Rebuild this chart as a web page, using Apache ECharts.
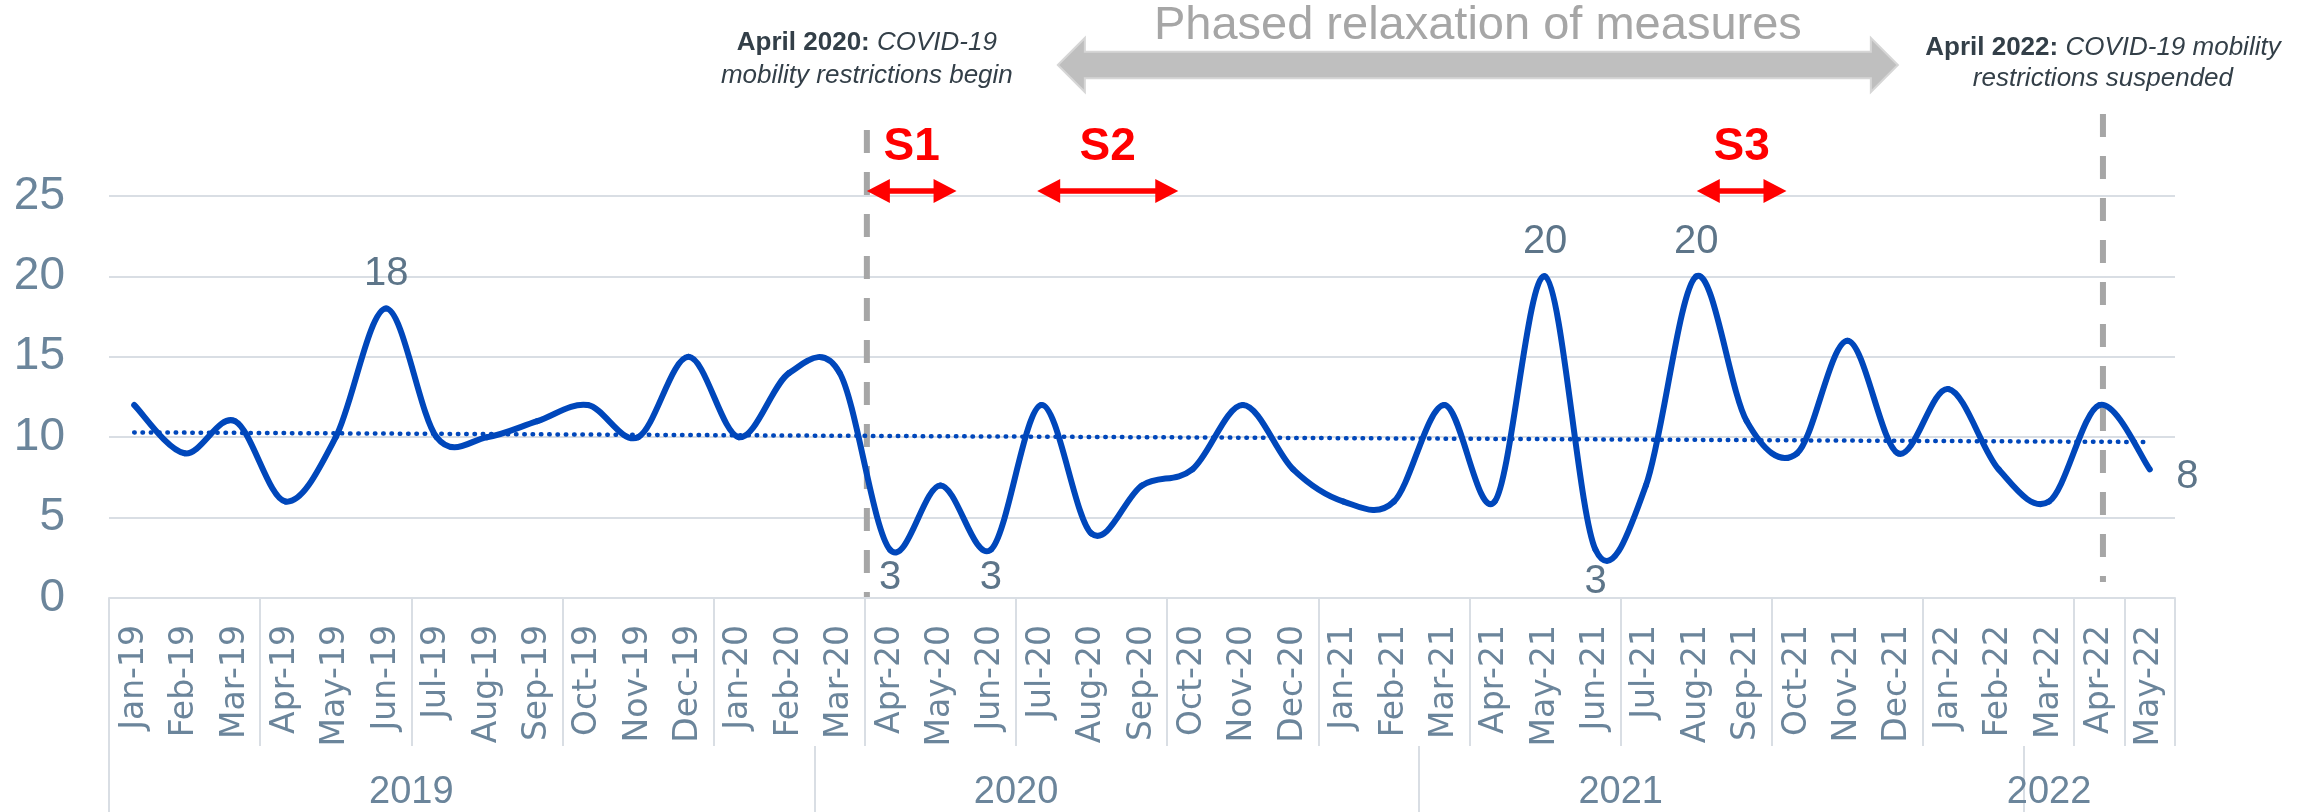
<!DOCTYPE html>
<html>
<head>
<meta charset="utf-8">
<script src="https://cdn.jsdelivr.net/npm/echarts@6/dist/echarts.min.js"></script>
<style>
  html, body { margin: 0; padding: 0; background: #fff; }
  #main { width: 2316px; height: 812px; }
</style>
</head>
<body>
<div id="main"></div>
<script>
// monthly values
var months = ['Jan-19', 'Feb-19', 'Mar-19', 'Apr-19', 'May-19', 'Jun-19', 'Jul-19', 'Aug-19', 'Sep-19', 'Oct-19', 'Nov-19', 'Dec-19',
    'Jan-20', 'Feb-20', 'Mar-20', 'Apr-20', 'May-20', 'Jun-20', 'Jul-20', 'Aug-20', 'Sep-20', 'Oct-20', 'Nov-20', 'Dec-20',
    'Jan-21', 'Feb-21', 'Mar-21', 'Apr-21', 'May-21', 'Jun-21', 'Jul-21', 'Aug-21', 'Sep-21', 'Oct-21', 'Nov-21', 'Dec-21',
    'Jan-22', 'Feb-22', 'Mar-22', 'Apr-22', 'May-22'];
var counts = [12, 9, 11, 6, 10, 18, 10, 10, 11, 12, 10, 15,
    10, 14, 14, 3, 7, 3, 12, 4, 7, 8, 12, 8,
    6, 6, 12, 6, 20, 3, 7, 20, 11, 9, 16, 9,
    13, 8, 6, 12, 8];
var yTicks = [0, 25, 5];   // min, max, step

// year row (positions in month units along the axis)
var yearLabels = ['2019', '2020', '2021', '2022'];
var yearCentres = [6, 18, 30, 38.5];
var yearBreaks = [0, 14, 26, 38];

// linear trend end points
var trendStart = 10.3;
var trendEnd = 9.7;

// which points carry a value label, and where
var labelAt = {5: 'top', 15: 'bottom', 17: 'bottom', 28: 'top', 29: 'bottom', 31: 'top', 40: 'right'};

// annotations (x in month units)
var eventLines = [15.04, 39.57];
var spans = [
    {name: 'S1', from: 15.04, to: 16.82},
    {name: 'S2', from: 18.42, to: 21.22},
    {name: 'S3', from: 31.51, to: 33.29}
];
var phase = {text: 'Phased relaxation of measures', from: 18.83, to: 35.5};

var axisGrey = '#d9dee4';
var labelBlue = '#6b859b';
var lineBlue = '#0047bb';
var sans = '"Liberation Sans", Arial, sans-serif';

var myChart = echarts.init(document.getElementById('main'));

var labelData = counts.map(function (v, i) {
    var pos = labelAt[i];
    if (!pos) return v;
    var lab = {show: true, position: pos, distance: 14};
    if (pos === 'bottom') lab.distance = (i === 29) ? 12 : 8;
    if (pos === 'right') { lab.distance = 26; lab.offset = [0, 8]; }
    return {value: v, label: lab};
});

// smooth curve like the spreadsheet one: each segment is a bezier built from its neighbours
function curveSegment(params, api) {
    var i = params.dataIndex;
    var n = counts.length;
    if (i >= n - 1) return null;
    function pt(j) {
        j = Math.max(0, Math.min(n - 1, j));
        return api.coord([j, counts[j]]);
    }
    var p0 = pt(i - 1), p1 = pt(i), p2 = pt(i + 1), p3 = pt(i + 2);
    return {
        type: 'bezierCurve',
        shape: {
            x1: p1[0], y1: p1[1], x2: p2[0], y2: p2[1],
            cpx1: p1[0] + (p2[0] - p0[0]) / 6, cpy1: p1[1] + (p2[1] - p0[1]) / 6,
            cpx2: p2[0] - (p3[0] - p1[0]) / 6, cpy2: p2[1] - (p3[1] - p1[1]) / 6
        },
        style: {stroke: lineBlue, lineWidth: 6, fill: null, lineCap: 'round'}
    };
}

var option = {
    animation: false,
    backgroundColor: '#fff',
    grid: {left: 109, right: 141, top: 196, bottom: 214, containLabel: false},
    xAxis: [
        {
            type: 'category',
            data: months,
            boundaryGap: true,
            axisLine: {lineStyle: {color: axisGrey, width: 2}},
            axisTick: {show: true, interval: 2, length: 148, lineStyle: {color: axisGrey, width: 2}},
            axisLabel: {
                interval: 0, rotate: 90, margin: 27,
                fontSize: 33, fontFamily: '"DejaVu Sans", Verdana, sans-serif', color: labelBlue
            },
            splitLine: {show: false}
        },
        {
            type: 'value',
            min: 0,
            max: months.length,
            position: 'bottom',
            offset: 148,
            axisLine: {show: false},
            splitLine: {show: false},
            axisTick: {show: true, customValues: yearBreaks, length: 67, lineStyle: {color: axisGrey, width: 2}},
            axisLabel: {
                customValues: yearCentres,
                formatter: function (v) {
                    var k = yearCentres.indexOf(v);
                    return k >= 0 ? yearLabels[k] : '';
                },
                margin: 28, fontSize: 38, fontFamily: sans, color: labelBlue
            }
        }
    ],
    yAxis: {
        type: 'value',
        min: yTicks[0],
        max: yTicks[1],
        interval: yTicks[2],
        axisLine: {show: false},
        axisTick: {show: false},
        axisLabel: {margin: 44, fontSize: 46, fontFamily: sans, color: labelBlue},
        splitLine: {lineStyle: {color: axisGrey, width: 2}}
    },
    series: [
        {
            // carries the value labels and the trend line
            type: 'line',
            data: labelData,
            symbol: 'circle',
            symbolSize: 1,
            itemStyle: {color: lineBlue},
            lineStyle: {opacity: 0},
            label: {
                show: false,
                fontSize: 40, fontFamily: sans, color: '#5d7589',
                formatter: function (p) { return Math.round(p.value); }
            },
            markLine: {
                silent: true,
                symbol: ['none', 'none'],
                label: {show: false},
                lineStyle: {color: lineBlue, width: 4.5, type: [0.5, 7.8], cap: 'round'},
                data: [[{coord: [months[0], trendStart]}, {coord: [months[months.length - 1], trendEnd]}]]
            },
            z: 3
        },
        {
            type: 'custom',
            data: counts.map(function (v, i) { return [i, v]; }),
            encode: {x: 0, y: 1},
            renderItem: curveSegment,
            silent: true,
            z: 2
        }
    ]
};

myChart.setOption(option);

function px(v) { return myChart.convertToPixel({xAxisIndex: 1}, v); }
function py(v) { return myChart.convertToPixel({yAxisIndex: 0}, v); }

function doubleArrow(x0, x1, y, head, halfHead, halfShaft) {
    return [
        [x0, y], [x0 + head, y - halfHead], [x0 + head, y - halfShaft], [x1 - head, y - halfShaft],
        [x1 - head, y - halfHead], [x1, y], [x1 - head, y + halfHead], [x1 - head, y + halfShaft],
        [x0 + head, y + halfShaft], [x0 + head, y + halfHead]
    ];
}

var graphics = [];

// event dashed lines
graphics.push({
    type: 'line', silent: true,
    shape: {x1: px(eventLines[0]), y1: 130, x2: px(eventLines[0]), y2: py(0)},
    style: {stroke: '#a6a6a6', lineWidth: 6, lineDash: [23, 19]}
});
graphics.push({
    type: 'line', silent: true,
    shape: {x1: px(eventLines[1]), y1: 114, x2: px(eventLines[1]), y2: 582},
    style: {stroke: '#a6a6a6', lineWidth: 6, lineDash: [23, 19]}
});

// S1..S3 red arrows
spans.forEach(function (s) {
    var x0 = px(s.from), x1 = px(s.to);
    graphics.push({
        type: 'polygon', silent: true,
        shape: {points: doubleArrow(x0, x1, 191, 23, 12, 2.7)},
        style: {fill: '#ff0000'}
    });
    graphics.push({
        type: 'text', silent: true,
        x: (x0 + x1) / 2, y: 147,
        style: {
            text: s.name, fill: '#ff0000', fontSize: 46, fontWeight: 'bold', fontFamily: sans,
            align: 'center', verticalAlign: 'middle'
        }
    });
});

// big grey arrow and its title
var gx0 = px(phase.from), gx1 = px(phase.to);
graphics.push({
    type: 'polygon', silent: true,
    shape: {points: doubleArrow(gx0, gx1, 65, 27, 27, 13.3)},
    style: {fill: '#bfbfbf', stroke: '#d6d6d6', lineWidth: 2}
});
graphics.push({
    type: 'text', silent: true,
    x: (gx0 + gx1) / 2, y: 26,
    style: {
        text: phase.text, fill: '#a6a6a6', fontSize: 47, fontFamily: sans,
        align: 'center', verticalAlign: 'middle'
    }
});

var noteRich = {
    b: {fontWeight: 'bold', fontSize: 26, fontFamily: sans, fill: '#333f48', lineHeight: 33},
    i: {fontStyle: 'italic', fontSize: 26, fontFamily: sans, fill: '#333f48', lineHeight: 33}
};
graphics.push({
    type: 'text', silent: true,
    x: px(eventLines[0]), y: 59,
    style: {
        text: '{b|April 2020:} {i|COVID-19}\n{i|mobility restrictions begin}',
        rich: noteRich, fontSize: 26, fontFamily: sans, fill: '#333f48',
        align: 'center', verticalAlign: 'middle'
    }
});
graphics.push({
    type: 'text', silent: true,
    x: px(eventLines[1]), y: 63,
    style: {
        text: '{b|April 2022:} {i|COVID-19 mobility}\n{i|restrictions suspended}',
        rich: {
            b: {fontWeight: 'bold', fontSize: 26, fontFamily: sans, fill: '#333f48', lineHeight: 31},
            i: {fontStyle: 'italic', fontSize: 26, fontFamily: sans, fill: '#333f48', lineHeight: 31}
        },
        fontSize: 26, fontFamily: sans, fill: '#333f48',
        align: 'center', verticalAlign: 'middle'
    }
});

myChart.setOption({graphic: graphics});
</script>
</body>
</html>
